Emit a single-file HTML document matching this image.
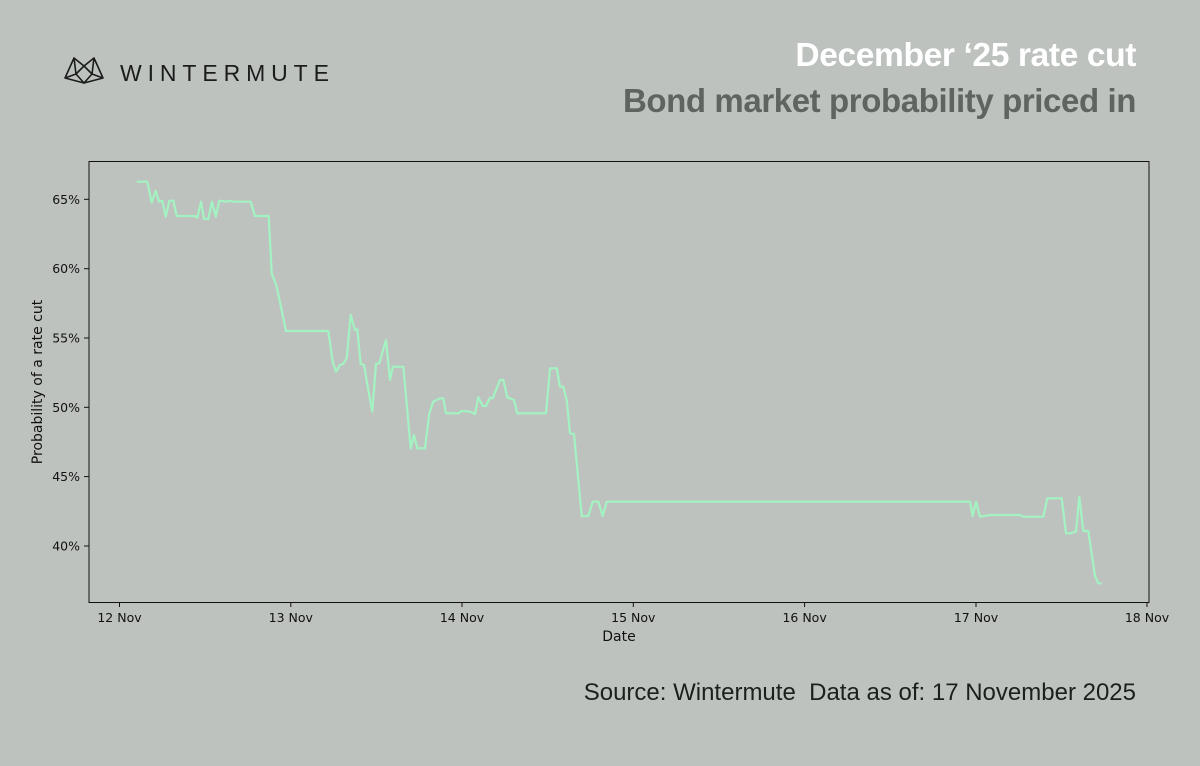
<!DOCTYPE html>
<html><head><meta charset="utf-8"><style>
html,body{margin:0;padding:0;background:#bec2bf;}
body{width:1200px;height:761px;overflow:hidden;font-family:"Liberation Sans",sans-serif;}
</style></head><body>
<svg width="1200" height="761" viewBox="0 0 1200 761" xmlns="http://www.w3.org/2000/svg">
<rect width="1200" height="761" fill="#bec2bf"/>
<g fill="none" stroke="#1a1d1b" stroke-width="1.6" stroke-linejoin="round">
<path d="M65,78 L74,58 L76,74 L84,66 L92,74 L94,58 L103,78 L84,83 Z"/>
<path d="M74,58 L84,66 L94,58 M76,74 L84,83 L92,74 M65,78 L76,74 M103,78 L92,74"/>
</g>
<text x="120" y="81" font-size="23" letter-spacing="5.9" fill="#1a1d1b">WINTERMUTE</text>
<text x="1136" y="66" text-anchor="end" font-size="33.6" font-weight="bold" fill="#ffffff" letter-spacing="-0.4">December ‘25 rate cut</text>
<text x="1136" y="112" text-anchor="end" font-size="33" font-weight="bold" fill="#5f6460" letter-spacing="-0.4">Bond market probability priced in</text>
<rect x="89" y="161.5" width="1060" height="441" fill="none" stroke="#111" stroke-width="1"/>
<g font-size="12.5" fill="#111" text-anchor="end" font-family="DejaVu Sans, sans-serif">
<line x1="84" y1="199.3" x2="89" y2="199.3" stroke="#111"/><text x="80" y="204">65%</text>
<line x1="84" y1="268.7" x2="89" y2="268.7" stroke="#111"/><text x="80" y="273">60%</text>
<line x1="84" y1="338" x2="89" y2="338" stroke="#111"/><text x="80" y="342.5">55%</text>
<line x1="84" y1="407.3" x2="89" y2="407.3" stroke="#111"/><text x="80" y="412">50%</text>
<line x1="84" y1="476.6" x2="89" y2="476.6" stroke="#111"/><text x="80" y="481">45%</text>
<line x1="84" y1="546" x2="89" y2="546" stroke="#111"/><text x="80" y="550.5">40%</text>
</g>
<g font-size="12.5" fill="#111" text-anchor="middle" font-family="DejaVu Sans, sans-serif">
<line x1="119.5" y1="602" x2="119.5" y2="607" stroke="#111"/><text x="119.5" y="622">12 Nov</text>
<line x1="290.8" y1="602" x2="290.8" y2="607" stroke="#111"/><text x="290.8" y="622">13 Nov</text>
<line x1="462" y1="602" x2="462" y2="607" stroke="#111"/><text x="462" y="622">14 Nov</text>
<line x1="633.3" y1="602" x2="633.3" y2="607" stroke="#111"/><text x="633.3" y="622">15 Nov</text>
<line x1="804.6" y1="602" x2="804.6" y2="607" stroke="#111"/><text x="804.6" y="622">16 Nov</text>
<line x1="976" y1="602" x2="976" y2="607" stroke="#111"/><text x="976" y="622">17 Nov</text>
<line x1="1147" y1="602" x2="1147" y2="607" stroke="#111"/><text x="1147" y="622">18 Nov</text>
</g>
<text x="619" y="641" font-size="14" text-anchor="middle" fill="#111" font-family="DejaVu Sans, sans-serif">Date</text>
<text transform="translate(42,382) rotate(-90)" font-size="14" text-anchor="middle" fill="#111" font-family="DejaVu Sans, sans-serif">Probability of a rate cut</text>
<polyline fill="none" stroke="#a3f3c2" stroke-width="2.2" stroke-linejoin="round" points="
136.7,181.7 147.3,181.7 151.7,202.7 155.7,190.7 159,201.7 162.3,200.7 165.7,216.7 169.3,200.7 173.3,200.7 176.7,216 195,216 197.3,217.7 201,201.7 204,219 208.3,219 212,201.7 215.7,216.7 219.3,200.7 226.7,201.7 230,200.7 233.3,201.7 250.7,201.7 255,216 268.7,216 271.7,273.3 276.7,286.7 286,331 328.3,331 332.7,361.7 336,371.7 340,365 343.3,364 346.7,358.3 350.7,315 355,330 357.3,329.3 360.7,364 364,365 368.3,390 372.3,411.7 376,364 379.3,363.3 386,340 390,380 392.7,366.7 403.3,366.7 410.7,448.3 414,435 417.3,448.3 425,448.3 429.3,413.3 433.3,401.7 440,398.3 443.3,398.3 446,413.3 458.3,413.3 461.7,411 470,411.7 475,414 478.3,397.3 482.7,406 486,406 490,397.7 492.7,398.3 500,380 503.3,380 507.3,397.3 514,400 517.3,413.3 546,413.3 550,368.3 556.7,368.3 560,386.7 563.3,386.7 566.7,400 570,433.3 574,434 581.7,516 588.3,516 592.7,501.7 598.3,501.7 602.7,516 606.7,501.7 970,501.7 972.7,516 976,501.7 980,516.7 990,515 1020,515 1023.3,516.7 1043.3,516.7 1047.3,498.3 1061.7,498.3 1066,533.3 1070,533.3 1076,531.7 1079.3,496.7 1083.3,531 1088.3,531 1095,576 1098.3,583.3 1101.7,583.3"/>
<text x="1136" y="700" text-anchor="end" font-size="24" fill="#1c201d" xml:space="preserve">Source: Wintermute  Data as of: 17 November 2025</text>
</svg>
</body></html>
